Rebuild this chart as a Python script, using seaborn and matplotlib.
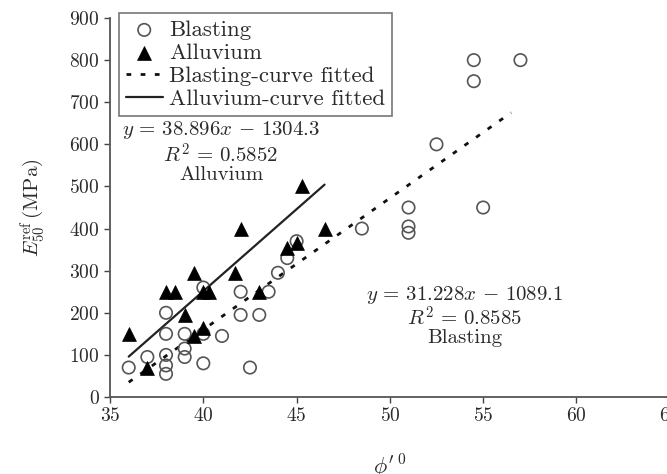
import numpy as np
import pandas as pd
import matplotlib
matplotlib.use("Agg")
import matplotlib.pyplot as plt
import seaborn as sns

# Blasting data (phi', E50ref)
blast_x = [36, 37, 38, 38, 38, 38, 38, 39, 39, 39, 40, 40, 40, 41, 42, 42, 42.5, 43, 43.5, 44, 44.5, 45,
           48.5, 51, 51, 51, 52.5, 55, 54.5, 54.5, 57]
blast_y = [70, 95, 200, 150, 100, 75, 55, 150, 115, 95, 80, 150, 260, 145, 250, 195, 70, 195, 250, 295, 330, 370,
           400, 450, 405, 390, 600, 450, 750, 800, 800]

# Alluvium data
alluv_x = [36, 37, 38, 38.5, 39, 39.5, 39.5, 40, 40, 40.3, 41.7, 42, 43, 44.5, 45, 45.3, 46.5]
alluv_y = [150, 70, 250, 250, 195, 295, 145, 165, 250, 250, 295, 400, 250, 355, 365, 500, 400]

# Fitted curves: slope, intercept, x-range
blast_fit = (31.228, -1089.1, 36.0, 56.5)
alluv_fit = (38.896, -1304.3, 36.0, 46.5)

xticks = [35, 40, 45, 50, 55, 60, 65]
yticks = [0, 100, 200, 300, 400, 500, 600, 700, 800, 900]

sns.set_style("ticks")
plt.rcParams["font.family"] = ["cmr10", "DejaVu Serif"]
plt.rcParams["mathtext.fontset"] = "cm"
plt.rcParams["axes.formatter.use_mathtext"] = True

txt = "#2a2a2a"
fig = plt.figure(figsize=(6.67, 4.74), dpi=100)
ax = fig.add_axes([0.165, 0.1624, 0.839, 0.7996])

bdf = pd.DataFrame({"x": blast_x, "y": blast_y})
adf = pd.DataFrame({"x": alluv_x, "y": alluv_y})

sns.scatterplot(data=bdf, x="x", y="y", ax=ax, marker="o", s=80, facecolor="none",
                edgecolor="#555555", linewidth=1.2, label="Blasting", zorder=3)
sns.scatterplot(data=adf, x="x", y="y", ax=ax, marker="^", s=100, color="black",
                edgecolor="black", linewidth=0.5, label="Alluvium", zorder=4)

def fitline(f):
    a, b, x0, x1 = f
    xs = np.array([x0, x1])
    return pd.DataFrame({"x": xs, "y": a * xs + b})

sns.lineplot(data=fitline(blast_fit), x="x", y="y", ax=ax, color="#111111", linewidth=2.0,
             dashes=False, label="Blasting-curve fitted", zorder=2)
bl = ax.lines[-1]
bl.set_linestyle((0, (1.7, 3.4)))
bl.set_dash_capstyle("butt")
sns.lineplot(data=fitline(alluv_fit), x="x", y="y", ax=ax, color="#222222", linewidth=1.6,
             label="Alluvium-curve fitted", zorder=2)

ax.set_xlim(35, 65)
ax.set_ylim(0, 900)
ax.set_xticks(xticks)
ax.set_yticks(yticks)
ax.tick_params(axis="both", labelsize=14, colors="#444444", labelcolor=txt, length=4, width=1)
for s in ["top", "right"]:
    ax.spines[s].set_visible(False)
for s in ["left", "bottom"]:
    ax.spines[s].set_color("#555555")
    ax.spines[s].set_linewidth(1.3)

ax.set_xlabel(r"$\phi'^{\,0}$", fontsize=16, color=txt, labelpad=20)
ax.set_ylabel(r"$E_{50}^{\rm ref}\,$(MPa)", fontsize=15, color=txt)
ax.yaxis.set_label_coords(-0.112, 0.5)

leg = ax.legend(loc="upper left", bbox_to_anchor=(119 / 667, 1 - 13 / 474),
                bbox_transform=fig.transFigure, fontsize=16.5, frameon=True,
                fancybox=False, edgecolor="#555555", handlelength=1.6, handletextpad=0.3,
                borderpad=0.3, labelspacing=0.13, borderaxespad=0.0)
leg.get_frame().set_linewidth(1.2)
for t in leg.get_texts():
    t.set_color(txt)

fs = 15
ax.text(40.95, 634, r"$y\,=\,38.896x\,-\,1304.3$", fontsize=fs, color=txt, ha="center", va="center")
ax.text(40.95, 575, r"$R^2\,=\,0.5852$", fontsize=fs, color=txt, ha="center", va="center")
ax.text(40.95, 527, "Alluvium", fontsize=fs, color=txt, ha="center", va="center")

ax.text(54.0, 242, r"$y\,=\,31.228x\,-\,1089.1$", fontsize=fs, color=txt, ha="center", va="center")
ax.text(54.0, 188, r"$R^2\,=\,0.8585$", fontsize=fs, color=txt, ha="center", va="center")
ax.text(54.0, 140, "Blasting", fontsize=fs, color=txt, ha="center", va="center")

fig.savefig("out.png", dpi=100)
